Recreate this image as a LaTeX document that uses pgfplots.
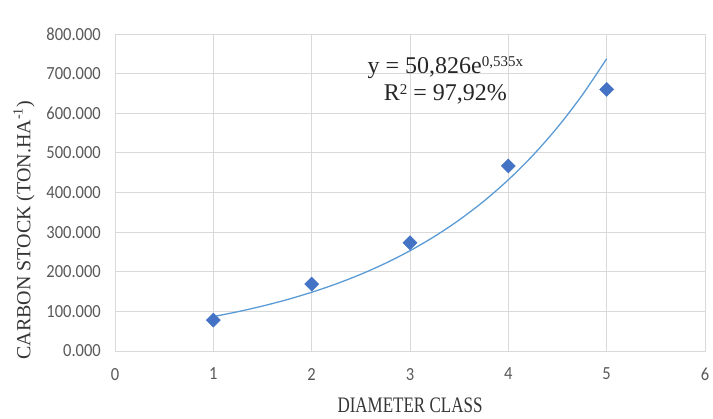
\documentclass[border=0pt]{standalone}
\usepackage{pgfplots}
\pgfplotsset{compat=1.18}
\usepackage{fontspec}
\setmainfont{Liberation Serif}
\newfontfamily\carlito{Carlito}
\definecolor{gridc}{HTML}{D9D9D9}
\definecolor{tickc}{HTML}{595959}
\definecolor{markc}{HTML}{4472C4}
\definecolor{trendc}{HTML}{5B9BD5}
\begin{document}
\begin{tikzpicture}
\path[use as bounding box] (0,0) rectangle (713pt,419pt);
\begin{axis}[
  at={(115pt,68pt)}, anchor=south west,
  scale only axis, width=590pt, height=317pt,
  xmin=0, xmax=6, ymin=0, ymax=800,
  xtick={0,1,2,3,4,5,6},
  ytick={0,100,200,300,400,500,600,700,800},
  yticklabels={0.000,100.000,200.000,300.000,400.000,500.000,600.000,700.000,800.000},
  major tick length=0pt,
  grid=major,
  grid style={gridc, line width=0.8pt},
  axis line style={gridc, line width=0.8pt},
  tick label style={font=\carlito\fontsize{16.5}{16.5}\selectfont, text=tickc, inner sep=0pt, yscale=1.12},
  /pgf/number format/assume math mode=true,
  yticklabel style={anchor=east, xshift=-14pt},
  xticklabel style={anchor=north, yshift=-15pt},
  xlabel={DIAMETER CLASS},
  ylabel={CARBON STOCK (TON.HA\textsuperscript{-1})},
  xlabel style={font=\fontsize{17}{17}\selectfont, text=tickc!60!black, at={(rel axis cs:0.5,0)}, anchor=center, yshift=-54pt, yscale=1.3},
  ylabel style={font=\fontsize{20}{20}\selectfont, text=tickc!60!black, at={(rel axis cs:0,0.381)}, anchor=center, yshift=91pt},
  clip=false,
]
\addplot[trendc, line width=1.3pt, smooth, no marks] coordinates {
(1,86.78) (1.25,99.20) (1.5,113.40) (1.75,129.63) (2,148.18) (2.25,169.38)
(2.5,193.62) (2.75,221.33) (3,253.00) (3.25,289.21) (3.5,330.59) (3.75,377.90)
(4,431.99) (4.25,493.81) (4.5,564.49) (4.75,645.27) (5,737.62)};
\addplot[only marks, mark=square*, mark size=5pt, mark options={rotate=45, fill=markc, draw=markc}] coordinates {
(1,78) (2,169) (3,273) (4,467) (5,660)};
\node[align=center, font=\fontsize{24}{27}\selectfont, text=black!85] at (axis cs:3.36,683)
 {y = 50,826e{\fontsize{15}{15}\selectfont\raisebox{0.5em}{0,535x}}\\R{\fontsize{15}{15}\selectfont\raisebox{0.45em}{2}} = 97,92\%};
\end{axis}
\end{tikzpicture}
\end{document}
